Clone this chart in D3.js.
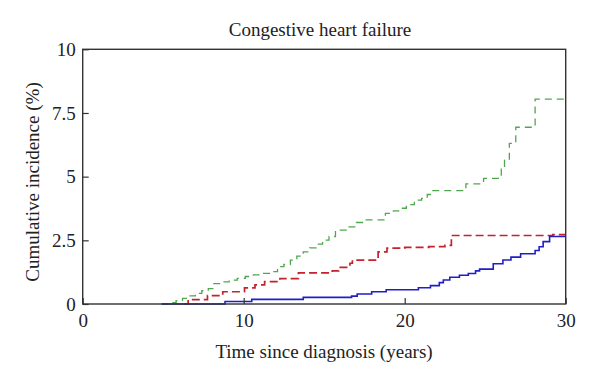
<!DOCTYPE html>
<html>
<head>
<meta charset="utf-8">
<script src="https://cdn.jsdelivr.net/npm/d3@7"></script>
<style>
  html, body { margin: 0; padding: 0; background: #fff; }
  svg { display: block; }
  text { font-family: "Liberation Serif", "DejaVu Serif", serif; fill: #222; }
</style>
</head>
<body>
<svg id="chart" width="600" height="383"></svg>
<script>
// ---- data ----
const title = "Congestive heart failure";
const xLabel = "Time since diagnosis (years)";
const yLabel = "Cumulative incidence (%)";
const xTicks = [0, 10, 20, 30];
const yTicks = [0, 2.5, 5, 7.5, 10];
const yTickLabels = ["0", "2.5", "5", "7.5", "10"];

// step functions: [time, cumulative incidence]
const greenSeries = [
  [4.9,0],[5.4,0.05],[5.8,0.13],[6.2,0.22],[6.6,0.32],[7.0,0.42],[7.4,0.52],[7.8,0.6],
  [8.1,0.8],[8.6,0.87],[9.1,0.94],[9.6,1.01],[10.1,1.08],[10.6,1.14],[11.1,1.2],[11.6,1.27],
  [12.1,1.47],[12.5,1.55],[12.9,1.72],[13.3,1.88],[13.7,2.05],[14.1,2.2],[14.5,2.35],[14.9,2.51],
  [15.3,2.65],[15.7,2.9],[16.4,3.03],[17.0,3.2],[17.5,3.3],[18.8,3.56],[19.3,3.66],[19.7,3.76],
  [20.1,3.9],[20.6,4.08],[21.05,4.15],[21.4,4.3],[21.7,4.45],[23.8,4.72],[24.9,4.93],[26.0,5.29],
  [26.2,5.65],[26.5,6.31],[26.9,6.94],[28.1,8.04],[30,8.04]
];
const redSeries = [
  [6.3,0],[6.55,0.17],[7.75,0.33],[8.7,0.48],[10.05,0.63],[10.7,0.75],[11.3,0.88],[12.25,1.0],
  [13.4,1.22],[15.5,1.3],[15.9,1.44],[16.6,1.6],[16.75,1.72],[18.35,2.05],[18.9,2.19],[20.0,2.22],
  [21.5,2.25],[22.5,2.3],[22.9,2.69],[29.2,2.72],[30,2.72]
];
const blueSeries = [
  [4.9,0],[8.84,0.1],[10.5,0.18],[13.7,0.26],[16.7,0.31],[17.05,0.39],[17.95,0.48],[18.85,0.56],
  [20.85,0.64],[21.6,0.72],[22.15,0.84],[22.4,0.94],[22.8,1.05],[23.4,1.13],[23.95,1.2],[24.4,1.3],
  [24.65,1.37],[25.5,1.58],[26.1,1.73],[26.6,1.84],[27.2,1.97],[28.1,2.1],[28.35,2.25],[28.6,2.45],
  [29.0,2.65],[30,2.65]
];

// ---- layout ----
const FONT = '"Liberation Serif", "Times New Roman", "DejaVu Serif", serif';
const svg = d3.select("#chart");
const mLeft = 82.7, mRight = 565.7, mTop = 49.3, mBottom = 304;
const x = d3.scaleLinear().domain([0, 30]).range([mLeft, mRight]);
const y = d3.scaleLinear().domain([0, 10]).range([mBottom, mTop]);

const line = d3.line().x(d => x(d[0])).y(d => y(d[1])).curve(d3.curveStepAfter);

const series = [
  { data: greenSeries, color: "#4fa64f", width: 1.3, dash: "7,5" },
  { data: redSeries,   color: "#c4222c", width: 1.7, dash: "8,4" },
  { data: blueSeries,  color: "#1f1fc8", width: 1.6, dash: null }
];

series.forEach(s => {
  svg.append("path")
    .datum(s.data)
    .attr("d", line)
    .attr("fill", "none")
    .attr("stroke", s.color)
    .attr("stroke-width", s.width)
    .attr("stroke-dasharray", s.dash);
});

// frame
svg.append("rect")
  .attr("x", mLeft).attr("y", mTop)
  .attr("width", mRight - mLeft).attr("height", mBottom - mTop)
  .attr("fill", "none").attr("stroke", "#333").attr("stroke-width", 1.4);

// y axis (ticks inward)
const yAxis = d3.axisLeft(y).tickValues(yTicks)
  .tickFormat((d, i) => yTickLabels[i]).tickSizeInner(-6).tickSizeOuter(0).tickPadding(7);
const gy = svg.append("g").attr("transform", `translate(${mLeft},0)`).call(yAxis)
  .attr("font-family", FONT).attr("font-size", 19);
gy.select(".domain").remove();
gy.selectAll(".tick line").attr("stroke", "#333").attr("stroke-width", 1.2);
gy.selectAll(".tick text").attr("fill", "#222");

// x axis (ticks inward)
const xAxis = d3.axisBottom(x).tickValues(xTicks).tickFormat(d3.format("d"))
  .tickSizeInner(-6).tickSizeOuter(0).tickPadding(10);
const gx = svg.append("g").attr("transform", `translate(0,${mBottom})`).call(xAxis)
  .attr("font-family", FONT).attr("font-size", 19);
gx.select(".domain").remove();
gx.selectAll(".tick line").attr("stroke", "#333").attr("stroke-width", 1.2);
gx.selectAll(".tick text").attr("fill", "#222");

// title and labels
svg.append("text").attr("x", 320).attr("y", 36).attr("text-anchor", "middle")
  .attr("font-family", FONT).attr("font-size", 19).text(title);
svg.append("text").attr("x", 324).attr("y", 358).attr("text-anchor", "middle")
  .attr("font-family", FONT).attr("font-size", 19).text(xLabel);
svg.append("text").attr("transform", "translate(39,182) rotate(-90)")
  .attr("text-anchor", "middle").attr("font-family", FONT).attr("font-size", 19).text(yLabel);
</script>
</body>
</html>
